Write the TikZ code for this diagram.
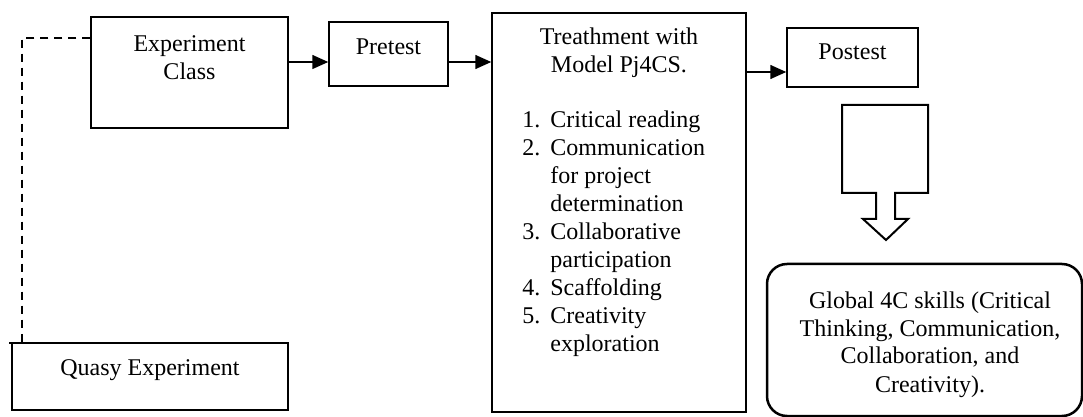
\documentclass[tikz,border=0pt]{standalone}
\usepackage{fontspec}
\setmainfont{Liberation Serif}
\usetikzlibrary{arrows.meta}
\begin{document}
\begin{tikzpicture}[x=0.5pt,y=-0.5pt,
  box/.style={draw, line width=0.75pt, inner sep=0pt, rectangle},
  txt/.style={inner sep=0pt, anchor=base, font=\fontsize{12}{14}\selectfont},
  arr/.style={line width=0.75pt, -{Triangle[length=8pt,width=7pt]}},
  dashline/.style={line width=0.75pt, dash pattern=on 4pt off 3pt}]
\useasboundingbox (0,0) rectangle (1083,417);
% boxes
\node[box, minimum width=98.5pt, minimum height=55.5pt] (exp) at (189.5,72.5) {};
\node[box, minimum width=59.5pt, minimum height=32pt] (pre) at (388.5,54) {};
\node[box, minimum width=127pt, minimum height=199.5pt] (treat) at (619,212.5) {};
\node[box, minimum width=65.5pt, minimum height=29.5pt] (post) at (852.5,57.5) {};
\node[box, minimum width=138pt, minimum height=33.5pt] (quasy) at (150,376.5) {};
\node[draw, line width=1.25pt, rounded corners=10pt, inner sep=0pt,
      minimum width=157.5pt, minimum height=76pt] (global) at (924.5,340) {};
% texts
\node[txt] (expt) at (189.5,52) {\begin{tabular}[t]{@{}c@{}}Experiment\\Class\end{tabular}};
\node[txt] (pret) at (388.5,55) {Pretest};
\node[txt] (postt) at (852.5,60) {Postest};
\node[txt] (quasyt) at (150,375) {Quasy Experiment};
\node[txt] (treatt) at (619,45) {\begin{tabular}[t]{@{}c@{}}Treathment with\\Model Pj4CS.\end{tabular}};
\node[txt, anchor=base west] (list) at (522,128) {\begin{tabular}[t]{@{}p{14pt}@{}l@{}}
1. & Critical reading\\
2. & Communication\\
   & for project\\
   & determination\\
3. & Collaborative\\
   & participation\\
4. & Scaffolding\\
5. & Creativity\\
   & exploration
\end{tabular}};
\node[txt] (globalt) at (930,308) {\begin{tabular}[t]{@{}c@{}}Global 4C skills (Critical\\Thinking, Communication,\\Collaboration, and\\Creativity).\end{tabular}};
% connectors
\draw[arr] (exp.east |- 0,62) -- (pre.west |- 0,62);
\draw[arr] (pre.east |- 0,62) -- (treat.west |- 0,62);
\draw[arr] (treat.east |- 0,72) -- (post.west |- 0,72);
\coordinate (dashend) at (7,343);
\draw[dashline] (exp.west |- 0,38) -- (22,38) -- (22,343) -- (dashend);
% block arrow
\draw[line width=1pt, line join=miter] (842,105) -- (928,105) -- (928,193) -- (895,193) -- (895,219)
  -- (908,219) -- (886,240) -- (863,219) -- (876,219) -- (876,193) -- (842,193) -- cycle;
\end{tikzpicture}
\end{document}
